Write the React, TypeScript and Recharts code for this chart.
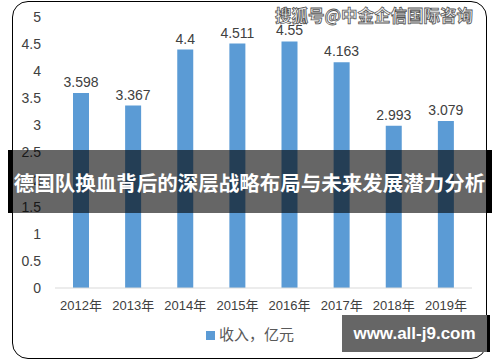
import React from "react";
import { BarChart, Bar, XAxis, YAxis, LabelList } from "recharts";

const years = ["2012年", "2013年", "2014年", "2015年", "2016年", "2017年", "2018年", "2019年"];
const revenue = [3.598, 3.367, 4.4, 4.511, 4.55, 4.163, 2.993, 3.079];
const yTicks = [0, 0.5, 1, 1.5, 2, 2.5, 3, 3.5, 4, 4.5, 5];
const seriesName = "收入，亿元";
const bannerTitle = "德国队换血背后的深层战略布局与未来发展潜力分析";
const watermark = "搜狐号@中金企信国际咨询";
const siteTag = "www.all-j9.com";

const chartData = years.map((year, i) => ({ year, value: revenue[i] }));

const font = '"Liberation Sans", "Noto Sans CJK SC", sans-serif';

export default function App() {
  return (
    <div style={{ position: "fixed", left: 0, top: 0, width: 500, height: 362, background: "#fff", overflow: "hidden" }}>
      <div
        style={{
          position: "absolute",
          left: 12,
          top: 1,
          width: 475,
          height: 358,
          boxSizing: "border-box",
          border: "1.4px solid #000",
          borderRadius: 16,
        }}
      />
      <BarChart
        width={500}
        height={362}
        data={chartData}
        margin={{ top: 17, right: 28, left: 0, bottom: 44 }}
        barSize={16}
        style={{ position: "absolute", left: 0, top: 0 }}
      >
        <YAxis
          width={55}
          domain={[0, 5]}
          ticks={yTicks}
          axisLine={false}
          tickLine={false}
          tickSize={0}
          tickMargin={14}
          tick={{ fontSize: 14, fill: "#404040", fontFamily: font }}
        />
        <XAxis
          dataKey="year"
          height={30}
          axisLine={{ stroke: "#D9D9D9", strokeWidth: 1 }}
          tickLine={false}
          tickSize={0}
          tickMargin={13}
          interval={0}
          tick={{ fontSize: 13, fill: "#404040", fontFamily: font }}
        />
        <Bar dataKey="value" name={seriesName} fill="#5B9BD5" isAnimationActive={false}>
          <LabelList
            dataKey="value"
            position="top"
            offset={6}
            style={{ fontSize: 14, fill: "#404040", fontFamily: font }}
          />
        </Bar>
      </BarChart>

      <div
        style={{
          position: "absolute",
          left: 0,
          top: 325,
          width: 500,
          display: "flex",
          alignItems: "center",
          justifyContent: "center",
          fontFamily: font,
          fontSize: 15,
          color: "#595959",
          lineHeight: "20px",
        }}
      >
        <span style={{ width: 9, height: 9, background: "#5B9BD5", marginRight: 4, display: "inline-block" }} />
        <span>{seriesName}</span>
      </div>

      <div
        style={{
          position: "absolute",
          left: 8,
          top: 150,
          width: 484,
          height: 63,
          boxSizing: "border-box",
          background: "rgba(0,0,0,0.6)",
          borderLeft: "4px solid #000",
          borderRight: "5px solid #000",
          display: "flex",
          alignItems: "center",
          justifyContent: "center",
          color: "#fff",
          fontFamily: '"Noto Sans CJK SC", sans-serif',
          fontWeight: 700,
          fontSize: 20.5,
          whiteSpace: "nowrap",
        }}
      >
        {bannerTitle}
      </div>

      <div
        style={{
          position: "absolute",
          left: 274,
          top: 4,
          width: 200,
          textAlign: "center",
          fontFamily: '"Noto Sans CJK SC", sans-serif',
          fontWeight: 700,
          fontSize: 16.5,
          color: "#f4f4f4",
          WebkitTextStroke: "0.8px #555",
          whiteSpace: "nowrap",
          lineHeight: "22px",
        }}
      >
        {watermark}
      </div>

      <div
        style={{
          position: "absolute",
          left: 342,
          top: 315,
          width: 148,
          height: 37,
          boxSizing: "border-box",
          background: "#666",
          borderRight: "3px solid #000",
          display: "flex",
          alignItems: "center",
          justifyContent: "center",
          color: "#fff",
          fontFamily: '"Liberation Sans", sans-serif',
          fontWeight: 700,
          fontSize: 17,
        }}
      >
        {siteTag}
      </div>
    </div>
  );
}
